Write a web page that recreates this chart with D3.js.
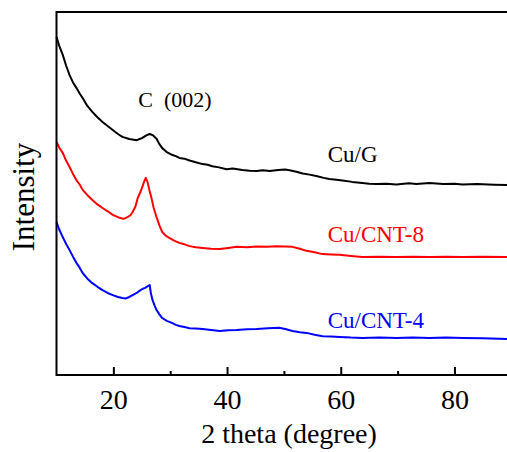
<!DOCTYPE html>
<html>
<head>
<meta charset="utf-8">
<script src="https://cdn.jsdelivr.net/npm/d3@7"></script>
<style>
  html, body { margin: 0; padding: 0; background: #fff; }
  text { font-family: "Liberation Serif", "Times New Roman", serif; }
</style>
</head>
<body>
<figure id="graph" style="margin:0"></figure>
<script>
// XRD patterns, 2 theta (degree) vs intensity (a.u.)
const cuG = [
  [10, 93.1], [10.5, 90.6], [11.1, 88.2], [11.7, 85.2], [12.3, 82.6], [12.9, 80.6], [13.5, 79.1],
  [14.1, 77.5], [14.6, 76.3], [15.4, 74.2], [16.3, 72.5], [17.2, 71.0], [18.1, 69.7], [19.0, 68.6],
  [19.9, 67.5], [20.8, 66.4], [21.6, 65.6], [22.8, 65.0], [24.1, 64.7], [25.1, 65.3], [25.8, 66.0],
  [26.4, 66.4], [27.0, 66.0], [27.6, 65.1], [28.1, 63.6], [28.6, 62.5], [29.4, 61.4], [30.4, 60.6],
  [31.0, 60.3], [31.6, 59.8], [32.5, 59.6], [33.4, 59.1], [34.5, 58.6], [35.7, 58.1], [36.6, 57.9],
  [37.4, 57.5], [38.6, 57.2], [39.9, 56.7], [41.0, 56.9], [42.7, 56.5], [44.0, 56.3], [45.2, 56.2],
  [46.3, 56.4], [47.5, 56.2], [49.0, 56.5], [50.2, 56.6], [51.0, 56.4], [52.2, 56.0], [53.3, 55.5],
  [54.5, 55.2], [55.7, 54.8], [57.0, 54.3], [58.0, 54.0], [59.2, 53.8], [60.3, 53.6], [62.0, 53.2],
  [63.8, 52.9], [65.0, 52.7], [66.3, 52.6], [68.0, 52.7], [69.8, 52.5], [72.0, 52.8], [73.3, 52.6],
  [75.6, 52.9], [78.0, 52.6], [80.0, 52.7], [81.4, 52.5], [84.0, 52.6], [87.0, 52.4], [90, 52.3]
];
const cuCnt8 = [
  [10, 64.2], [10.5, 62.6], [11.1, 61.2], [11.7, 59.0], [12.3, 57.3], [12.9, 55.4], [13.5, 53.7],
  [14.1, 52.4], [14.6, 51.0], [15.4, 49.6], [16.3, 48.2], [17.2, 47.0], [18.1, 46.0], [19.0, 45.1],
  [19.9, 44.1], [20.5, 43.7], [21.1, 43.3], [21.8, 43.0], [22.5, 43.5], [23.0, 44.0], [23.4, 44.9],
  [23.9, 46.5], [24.3, 48.8], [24.7, 50.2], [25.1, 51.8], [25.4, 53.2], [25.7, 54.3], [26.0, 53.2],
  [26.3, 51.2], [26.7, 48.8], [27.1, 46.0], [27.6, 43.5], [28.1, 41.2], [28.6, 39.4], [29.2, 38.4],
  [29.9, 37.7], [30.7, 37.0], [31.6, 36.4], [32.5, 36.0], [33.4, 35.5], [34.5, 35.2], [35.7, 35.0],
  [37.2, 34.8], [38.7, 34.7], [40.2, 35.0], [41.7, 35.3], [43.5, 35.2], [45.2, 35.4], [47.0, 35.3],
  [48.7, 35.5], [50.2, 35.4], [51.5, 35.3], [52.8, 34.8], [54.0, 34.2], [55.4, 33.8], [56.8, 33.3],
  [58.3, 33.2], [59.8, 33.1], [61.8, 32.8], [63.8, 32.5], [66.8, 32.6], [69.8, 32.5], [72.7, 32.6],
  [75.6, 32.5], [78.5, 32.6], [81.4, 32.5], [85.0, 32.6], [90, 32.5]
];
const cuCnt4 = [
  [10, 42.1], [10.5, 40.0], [11.1, 38.0], [11.7, 36.1], [12.3, 34.4], [12.9, 32.6], [13.5, 30.9],
  [14.1, 29.5], [14.6, 28.1], [15.4, 26.6], [16.3, 25.3], [17.2, 24.3], [18.1, 23.4], [19.0, 22.6],
  [19.9, 22.0], [20.8, 21.5], [21.6, 21.2], [22.2, 21.1], [22.8, 21.5], [23.4, 22.0], [24.1, 22.6],
  [24.6, 23.2], [25.1, 23.7], [25.6, 24.0], [26.2, 24.6], [26.4, 24.8], [26.6, 22.5], [26.9, 20.6],
  [27.3, 19.0], [27.6, 17.9], [28.1, 16.7], [28.6, 15.7], [29.4, 14.9], [30.4, 14.3], [31.0, 13.8],
  [31.6, 13.5], [32.5, 13.2], [33.4, 12.9], [34.5, 12.8], [35.7, 12.7], [37.2, 12.4], [38.7, 12.1],
  [40.2, 12.3], [41.7, 12.4], [43.5, 12.6], [45.2, 12.7], [47.2, 12.9], [49.2, 13.0], [50.4, 12.6],
  [51.5, 12.1], [52.8, 11.8], [54.0, 11.6], [55.4, 11.1], [56.8, 10.7], [58.3, 10.6], [59.8, 10.5],
  [61.8, 10.3], [63.8, 10.2], [66.8, 10.3], [69.8, 10.2], [72.7, 10.3], [75.6, 10.2], [78.5, 10.3],
  [81.4, 10.2], [85.0, 10.1], [90, 9.9]
];
const series = [
  { name: 'Cu/G', values: cuG, color: '#000000' },
  { name: 'Cu/CNT-8', values: cuCnt8, color: '#ff0000' },
  { name: 'Cu/CNT-4', values: cuCnt4, color: '#0000ff' }
];
const majorTicks = [20, 40, 60, 80];
const minorTicks = [30, 50, 70];
const xTitle = '2 theta (degree)';
const yTitle = 'Intensity';
const peakLabel = 'C  (002)';

const width = 507;
const height = 452;
const plotLeft = 56.5, plotRight = 511.3, plotTop = 12, plotBottom = 375;

const svg = d3.select('figure#graph')
  .append('svg')
  .attr('width', width)
  .attr('height', height);

const xScale = d3.scaleLinear().domain([10, 90]).range([plotLeft, plotRight]);
const yScale = d3.scaleLinear().domain([0, 100]).range([plotBottom, plotTop]);

// curves
const line = d3.line()
  .x(d => xScale(d[0]))
  .y(d => yScale(d[1]));

series.forEach(s => {
  svg.append('path')
    .datum(s.values)
    .attr('fill', 'none')
    .attr('stroke', s.color)
    .attr('stroke-width', 2)
    .attr('stroke-linejoin', 'round')
    .attr('d', line);
});

// frame
svg.append('rect')
  .attr('x', plotLeft)
  .attr('y', plotTop)
  .attr('width', plotRight - plotLeft)
  .attr('height', plotBottom - plotTop)
  .attr('fill', 'none')
  .attr('stroke', '#000')
  .attr('stroke-width', 2);

// bottom axis, ticks inside
const xAxis = svg.append('g')
  .attr('transform', `translate(0, ${plotBottom})`)
  .call(d3.axisBottom(xScale).tickValues(majorTicks).tickSizeInner(-8).tickSizeOuter(0).tickPadding(14));
xAxis.select('.domain').remove();
xAxis.selectAll('line').attr('stroke-width', 2);
xAxis.selectAll('text')
  .attr('font-size', 28)
  .attr('font-family', '"Liberation Serif", serif')
  .attr('fill', '#000');

const xMinor = svg.append('g')
  .attr('transform', `translate(0, ${plotBottom})`)
  .call(d3.axisBottom(xScale).tickValues(minorTicks).tickSizeInner(-4).tickSizeOuter(0).tickFormat(''));
xMinor.select('.domain').remove();
xMinor.selectAll('line').attr('stroke-width', 2);

// axis titles
svg.append('text')
  .attr('x', 289)
  .attr('y', 443)
  .attr('text-anchor', 'middle')
  .attr('font-size', 28)
  .text(xTitle);

svg.append('text')
  .attr('transform', `translate(34, 197) rotate(-90)`)
  .attr('text-anchor', 'middle')
  .attr('font-size', 31)
  .text(yTitle);

// annotations
svg.append('text')
  .attr('x', xScale(24.4))
  .attr('y', yScale(73.8))
  .attr('font-size', 22)
  .style('white-space', 'pre')
  .text(peakLabel);

const labelPos = [[57.7, 58.7], [57.7, 36.6], [57.7, 12.9]];
series.forEach((s, i) => {
  svg.append('text')
    .attr('x', xScale(labelPos[i][0]))
    .attr('y', yScale(labelPos[i][1]))
    .attr('font-size', 23)
    .attr('fill', s.color)
    .text(s.name);
});
</script>
</body>
</html>
